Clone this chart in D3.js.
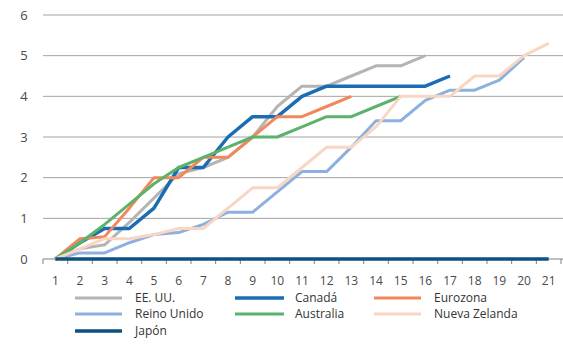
<!DOCTYPE html>
<html>
<head>
<meta charset="utf-8">
<script src="https://cdn.jsdelivr.net/npm/d3@7"></script>
<style>
  html, body { margin: 0; padding: 0; background: #fff; }
  svg { display: block; font-family: "Open Sans", "Noto Sans", sans-serif; }
</style>
</head>
<body>
<svg id="chart" width="563" height="349"></svg>
<script>
// Periods since the start of the tightening cycle
const periods = d3.range(1, 22).map(String);
const yTicks = [0, 1, 2, 3, 4, 5, 6];

// Cumulative rate increases (percentage points) per economy
const eeuu = [0, 0.25, 0.35, 0.9, 1.5, 2.1, 2.25, 2.5, 3.0, 3.75, 4.25, 4.25, 4.5, 4.75, 4.75, 5.0];
const canada = [0, 0.4, 0.75, 0.75, 1.25, 2.25, 2.25, 3.0, 3.5, 3.5, 4.0, 4.25, 4.25, 4.25, 4.25, 4.25, 4.5];
const eurozona = [0, 0.5, 0.55, 1.25, 2.0, 2.0, 2.5, 2.5, 3.0, 3.5, 3.5, 3.75, 4.0];
const reinoUnido = [0, 0.15, 0.15, 0.4, 0.6, 0.65, 0.85, 1.15, 1.15, 1.65, 2.15, 2.15, 2.75, 3.4, 3.4, 3.9, 4.15, 4.15, 4.4, 4.95];
const australia = [0, 0.4, 0.85, 1.35, 1.85, 2.25, 2.5, 2.75, 3.0, 3.0, 3.25, 3.5, 3.5, 3.75, 4.0];
const nuevaZelanda = [0, 0.25, 0.5, 0.5, 0.6, 0.75, 0.75, 1.25, 1.75, 1.75, 2.25, 2.75, 2.75, 3.25, 4.0, 4.0, 4.0, 4.5, 4.5, 5.0, 5.3];
const japon = [0, 0, 0, 0, 0, 0, 0, 0, 0, 0, 0, 0, 0, 0, 0, 0, 0, 0, 0, 0, 0];

const series = [
  { name: "EE. UU.", values: eeuu, color: "#b4b4b4", width: 3 },
  { name: "Canadá", values: canada, color: "#1b6db3", width: 3.5 },
  { name: "Eurozona", values: eurozona, color: "#f2875a", width: 3 },
  { name: "Reino Unido", values: reinoUnido, color: "#8db0de", width: 3 },
  { name: "Australia", values: australia, color: "#5bb36b", width: 3 },
  { name: "Nueva Zelanda", values: nuevaZelanda, color: "#f9d6c2", width: 3 },
  { name: "Japón", values: japon, color: "#0e5080", width: 3.5 }
];

const svg = d3.select("#chart");

const x = d3.scaleBand().domain(periods).range([43, 561]).paddingInner(0).paddingOuter(0);
const y = d3.scaleLinear().domain([0, 6]).range([259, 15]);
const cx = p => x(p) + x.bandwidth() / 2;

// Horizontal gridlines
svg.append("g")
  .selectAll("line")
  .data(yTicks.filter(t => t > 0))
  .join("line")
  .attr("x1", 43).attr("x2", 563)
  .attr("y1", d => y(d)).attr("y2", d => y(d))
  .attr("stroke", "#a3a3a3").attr("stroke-width", 1);

// Y axis labels
svg.append("g")
  .selectAll("text")
  .data(yTicks)
  .join("text")
  .attr("x", 24).attr("y", d => y(d))
  .attr("dy", "0.35em")
  .attr("text-anchor", "middle")
  .attr("font-size", 13)
  .attr("fill", "#4a4a4a")
  .text(d => d);

// X axis with ticks on the band boundaries
const xAxis = svg.append("g").attr("transform", `translate(0,${y(0)})`);
xAxis.append("line")
  .attr("x1", 43).attr("x2", 563)
  .attr("stroke", "#808080").attr("stroke-width", 1.2);
xAxis.selectAll("line.tick")
  .data(periods.concat(["end"]))
  .join("line")
  .attr("class", "tick")
  .attr("x1", d => d === "end" ? x.range()[1] : x(d))
  .attr("x2", d => d === "end" ? x.range()[1] : x(d))
  .attr("y1", 0).attr("y2", 5)
  .attr("stroke", "#808080").attr("stroke-width", 1);
xAxis.selectAll("text")
  .data(periods)
  .join("text")
  .attr("x", d => cx(d))
  .attr("y", 22)
  .attr("dy", "0.35em")
  .attr("text-anchor", "middle")
  .attr("font-size", 12)
  .attr("fill", "#4a4a4a")
  .text(d => d);

// Series lines
const line = d3.line()
  .x((d, i) => cx(periods[i]))
  .y(d => y(d));

svg.append("g")
  .selectAll("path")
  .data(series)
  .join("path")
  .attr("d", s => line(s.values))
  .attr("fill", "none")
  .attr("stroke", s => s.color)
  .attr("stroke-width", s => s.width)
  .attr("stroke-linejoin", "round");

// Legend
const colX = [[75, 122, 135], [235, 284, 295], [374, 421, 434]];
const rowY = [298, 314, 331];
const legend = svg.append("g")
  .selectAll("g")
  .data(series)
  .join("g")
  .attr("transform", (s, i) => `translate(0,${rowY[Math.floor(i / 3)]})`);
legend.append("line")
  .attr("x1", (s, i) => colX[i % 3][0])
  .attr("x2", (s, i) => colX[i % 3][1])
  .attr("stroke", s => s.color)
  .attr("stroke-width", s => s.width);
legend.append("text")
  .attr("x", (s, i) => colX[i % 3][2])
  .attr("dy", "0.35em")
  .attr("font-size", 12)
  .attr("fill", "#333")
  .text(s => s.name);
</script>
</body>
</html>
